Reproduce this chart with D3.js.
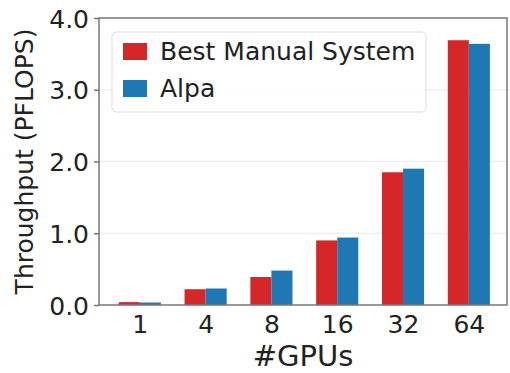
<!DOCTYPE html>
<html><head><meta charset="utf-8">
<script src="https://cdn.jsdelivr.net/npm/d3@7"></script>
<style>body{margin:0;background:#fff}svg{display:block}text{font-family:"DejaVu Sans",sans-serif;fill:#222}</style>
</head><body><svg id="c" width="510" height="373"></svg>
<script>
const categories = ["1","4","8","16","32","64"];
const seriesNames = ["Best Manual System","Alpa"];
const manual = [0.04,0.22,0.39,0.90,1.85,3.69];
const alpa = [0.035,0.23,0.48,0.94,1.90,3.64];
const yTicks = [0,1,2,3,4];
const colors = ["#d62728","#1f77b4"];

const svg = d3.select("#c");
const L=99, R=507, T=18, B=305;
const x = d3.scaleLinear().domain([-0.62,5.58]).range([L,R]);
const y = d3.scaleLinear().domain([0,4]).range([B,T]);
const bw = 0.32;

// grid
svg.append("g").selectAll("line").data(yTicks.filter(d=>d>0&&d<4)).join("line")
  .attr("x1",L).attr("x2",R).attr("y1",d=>y(d)).attr("y2",d=>y(d))
  .attr("stroke","#ebebeb").attr("stroke-width",1);

const series=[manual,alpa];
series.forEach((vals,si)=>{
  svg.append("g").selectAll("rect").data(vals).join("rect")
    .attr("x",(d,i)=>x(i+(si===0?-bw:0)))
    .attr("width",x(bw)-x(0))
    .attr("y",d=>y(d)).attr("height",d=>y(0)-y(d))
    .attr("fill",colors[si]);
});

// frame
svg.append("rect").attr("x",L).attr("y",T).attr("width",R-L).attr("height",B-T)
  .attr("fill","none").attr("stroke","#777").attr("stroke-width",1.5);

// y axis
const ya = svg.append("g").attr("transform",`translate(${L},0)`)
  .call(d3.axisLeft(y).tickValues(yTicks).tickFormat(d3.format(".1f")).tickSize(5).tickPadding(5));
ya.select(".domain").remove();
ya.selectAll("line").attr("stroke","#777").attr("stroke-width",1.5);
ya.selectAll("text").style("font-size","25px").attr("dy","0.36em").style("fill","#222");

// x axis
const xa = svg.append("g").attr("transform",`translate(0,${B})`)
  .call(d3.axisBottom(x).tickValues(d3.range(categories.length)).tickFormat(i=>categories[i]).tickSize(0).tickPadding(10));
xa.select(".domain").remove();
xa.selectAll("text").style("font-size","25px").style("fill","#222");

// labels
svg.append("text").attr("x",(L+R)/2).attr("y",366).attr("text-anchor","middle")
  .style("font-size","29px").text("#GPUs");
svg.append("text").attr("transform",`translate(33,${(T+B)/2}) rotate(-90)`).attr("text-anchor","middle")
  .style("font-size","25px").text("Throughput (PFLOPS)");

// legend
const lg = svg.append("g");
lg.append("rect").attr("x",112).attr("y",32).attr("width",314).attr("height",80).attr("rx",4)
  .attr("fill","rgba(255,255,255,0.85)").attr("stroke","#ddd").attr("stroke-width",1);
seriesNames.forEach((n,i)=>{
  const yy = 43 + i*37;
  lg.append("rect").attr("x",123).attr("y",yy).attr("width",24).attr("height",17).attr("fill",colors[i]);
  lg.append("text").attr("x",160).attr("y",yy+17).style("font-size","25px").text(n);
});
</script></body></html>
